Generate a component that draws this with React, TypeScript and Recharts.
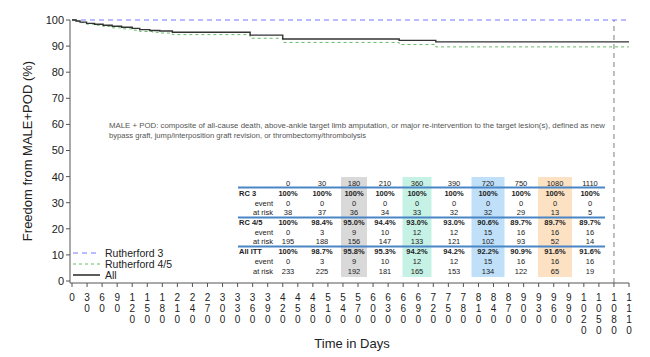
import React from 'react';
import { LineChart, Line, XAxis, YAxis, ReferenceLine, Legend } from 'recharts';

// ---- curve data (Kaplan-Meier style step points) ----
const rc3Days = [0, 1110];
const rc3Values = [100, 100];

const rc45Days = [0, 10, 18, 29, 45, 62, 80, 99, 120, 135, 160, 178, 200, 355, 420, 652, 725, 1110];
const rc45Values = [100, 99.5, 99.0, 98.4, 98.0, 97.5, 97.0, 96.6, 96.1, 95.6, 95.3, 95.0, 94.4, 93.0, 91.4, 90.6, 89.7, 89.7];

const allDays = [0, 8, 16, 29, 45, 62, 80, 99, 120, 135, 155, 175, 200, 355, 420, 652, 725, 1110];
const allValues = [100, 99.6, 99.2, 98.7, 98.4, 98.0, 97.6, 97.2, 96.8, 96.3, 96.0, 95.8, 95.3, 94.2, 92.7, 92.2, 91.6, 91.6];

// ---- axis ticks ----
const xTicks = [0, 30, 60, 90, 120, 150, 180, 210, 240, 270, 300, 330, 360, 390, 420, 450, 480, 510, 540, 570, 600, 630, 660, 690, 720, 750, 780, 810, 840, 870, 900, 930, 960, 990, 1020, 1050, 1080, 1110];
const yTicks = [0, 10, 20, 30, 40, 50, 60, 70, 80, 90, 100];

// ---- risk table ----
const tableDays = ['0', '30', '180', '210', '360', '390', '720', '750', '1080', '1110'];
const rc3Surv = ['100%', '100%', '100%', '100%', '100%', '100%', '100%', '100%', '100%', '100%'];
const rc3Event = [0, 0, 0, 0, 0, 0, 0, 0, 0, 0];
const rc3AtRisk = [38, 37, 36, 34, 33, 32, 32, 29, 13, 5];
const rc45Surv = ['100%', '98.4%', '95.0%', '94.4%', '93.0%', '93.0%', '90.6%', '89.7%', '89.7%', '89.7%'];
const rc45Event = [0, 3, 9, 10, 12, 12, 15, 16, 16, 16];
const rc45AtRisk = [195, 188, 156, 147, 133, 121, 102, 93, 52, 14];
const allSurv = ['100%', '98.7%', '95.8%', '95.3%', '94.2%', '94.2%', '92.2%', '90.9%', '91.6%', '91.6%'];
const allEvent = [0, 3, 9, 10, 12, 12, 15, 16, 16, 16];
const allAtRisk = [233, 225, 192, 181, 165, 153, 134, 122, 65, 19];

const noteLine1 = 'MALE + POD: composite of all-cause death, above-ankle target limb amputation, or major re-intervention to the target lesion(s), defined as new';
const noteLine2 = 'bypass graft, jump/interposition graft revision, or thrombectomy/thrombolysis';

const toData = (days: number[], vals: number[]) => days.map((d, i) => ({ day: d, v: vals[i] }));
const rc3Data = toData(rc3Days, rc3Values);
const rc45Data = toData(rc45Days, rc45Values);
const allData = toData(allDays, allValues);

const FONT = '"Liberation Sans", Arial, sans-serif';

const XTick = (props: any) => {
  const { x, y, payload } = props;
  const s = String(payload.value);
  return (
    <text x={x} y={y} textAnchor="middle" fontSize={10} fill="#222" fontFamily={FONT}>
      {s.split('').map((c, i) => (
        <tspan key={i} x={x} dy={i === 0 ? 12 : 11}>{c}</tspan>
      ))}
    </text>
  );
};

const LegendContent = () => {
  const items = [
    { label: 'Rutherford 3', stroke: '#7777ff', dash: '5 4', w: 1 },
    { label: 'Rutherford 4/5', stroke: '#66bb66', dash: '3 3', w: 1 },
    { label: 'All', stroke: '#333', dash: undefined, w: 1.6 },
  ];
  return (
    <svg width={140} height={36} style={{ display: 'block' }}>
      {items.map((it, i) => (
        <g key={i}>
          <line x1={0} x2={27} y1={6 + i * 11} y2={6 + i * 11} stroke={it.stroke} strokeDasharray={it.dash} strokeWidth={it.w} />
          <text x={32} y={9.5 + i * 11} fontSize={10.5} fontFamily={FONT} fill="#222">{it.label}</text>
        </g>
      ))}
    </svg>
  );
};

const colX = [288, 322, 354, 385, 417, 454, 488, 521, 555, 590];
const highlights = [
  { col: 2, fill: '#d9d9d9', w: 26 },
  { col: 4, fill: '#c6f1e5', w: 29 },
  { col: 6, fill: '#bfe0f8', w: 33 },
  { col: 8, fill: '#fde1c3', w: 34 },
];

const RiskTable = () => {
  const rows: { label: string; vals: (string | number)[]; bold: boolean; head: boolean }[] = [
    { label: 'RC 3', vals: rc3Surv, bold: true, head: true },
    { label: 'event', vals: rc3Event, bold: false, head: false },
    { label: 'at risk', vals: rc3AtRisk, bold: false, head: false },
    { label: 'RC 4/5', vals: rc45Surv, bold: true, head: true },
    { label: 'event', vals: rc45Event, bold: false, head: false },
    { label: 'at risk', vals: rc45AtRisk, bold: false, head: false },
    { label: 'All ITT', vals: allSurv, bold: true, head: true },
    { label: 'event', vals: allEvent, bold: false, head: false },
    { label: 'at risk', vals: allAtRisk, bold: false, head: false },
  ];
  const rowY = [196, 205.5, 215, 225, 234.5, 244, 254, 263.5, 273.5];
  return (
    <g fontFamily={FONT} fontSize={7.5} fill="#222">
      {highlights.map((h, i) => (
        <rect key={i} x={colX[h.col] - h.w / 2} y={177} width={h.w} height={100} fill={h.fill} />
      ))}
      {tableDays.map((d, i) => (
        <text key={i} x={colX[i]} y={186} textAnchor="middle">{d}</text>
      ))}
      {[187.5, 217.5, 246.5].map((y, i) => (
        <line key={i} x1={238} x2={605} y1={y} y2={y} stroke="#4a86c5" strokeWidth={1.8} />
      ))}
      {rows.map((r, ri) => (
        <g key={ri} fontWeight={r.bold ? 'bold' : 'normal'}>
          <text x={r.head ? 239 : 273} y={rowY[ri]} textAnchor={r.head ? 'start' : 'end'}>{r.label}</text>
          {r.vals.map((v, ci) => (
            <text key={ci} x={colX[ci]} y={rowY[ri]} textAnchor="middle">{String(v)}</text>
          ))}
        </g>
      ))}
    </g>
  );
};

export default function App() {
  return (
    <div style={{ position: 'absolute', left: 0, top: 0, width: 650, height: 357, background: '#fff' }}>
      <LineChart width={650} height={357} margin={{ top: 20, right: 21, bottom: 0, left: 0 }}>
        <XAxis
          dataKey="day"
          type="number"
          domain={[0, 1110]}
          ticks={xTicks}
          interval={0}
          padding={{ left: 2, right: 0 }}
          tickSize={4}
          tickMargin={2}
          height={74}
          stroke="#555"
          tick={<XTick />}
          allowDataOverflow
        />
        <YAxis
          type="number"
          domain={[0, 100]}
          ticks={yTicks}
          interval={0}
          width={70}
          padding={{ top: 0, bottom: 2 }}
          tickSize={4}
          tickMargin={2}
          stroke="#555"
          tick={{ fontSize: 11, fill: '#222', fontFamily: FONT }}
        />
        <ReferenceLine x={1080} stroke="#aaaaaa" strokeDasharray="5 4" strokeWidth={1.5} />
        <Line data={rc3Data} dataKey="v" type="stepAfter" stroke="#7777ff" strokeDasharray="5 4" strokeWidth={1} dot={false} isAnimationActive={false} name="Rutherford 3" />
        <Line data={rc45Data} dataKey="v" type="stepAfter" stroke="#66bb66" strokeDasharray="3 3" strokeWidth={1} dot={false} isAnimationActive={false} name="Rutherford 4/5" />
        <Line data={allData} dataKey="v" type="stepAfter" stroke="#333" strokeWidth={1.4} dot={false} isAnimationActive={false} name="All" />
        <Legend
          layout="horizontal"
          align="center"
          verticalAlign="middle"
          content={<LegendContent />}
          wrapperStyle={{ position: 'absolute', left: 73, top: 247, width: 140, height: 36 }}
        />
      </LineChart>
      <svg width={650} height={357} style={{ position: 'absolute', left: 0, top: 0, pointerEvents: 'none' }}>
        <text x={109} y={128} fontSize={7.5} fill="#555" fontFamily={FONT} textLength={496} lengthAdjust="spacingAndGlyphs">{noteLine1}</text>
        <text x={109} y={137.5} fontSize={7.5} fill="#555" fontFamily={FONT} textLength={257} lengthAdjust="spacingAndGlyphs">{noteLine2}</text>
        <RiskTable />
        <text x={352} y={348} textAnchor="middle" fontSize={13} fill="#222" fontFamily={FONT}>Time in Days</text>
        <text x={0} y={0} transform="translate(32,151) rotate(-90)" textAnchor="middle" fontSize={13} fill="#222" fontFamily={FONT}>Freedom from MALE+POD (%)</text>
      </svg>
    </div>
  );
}
